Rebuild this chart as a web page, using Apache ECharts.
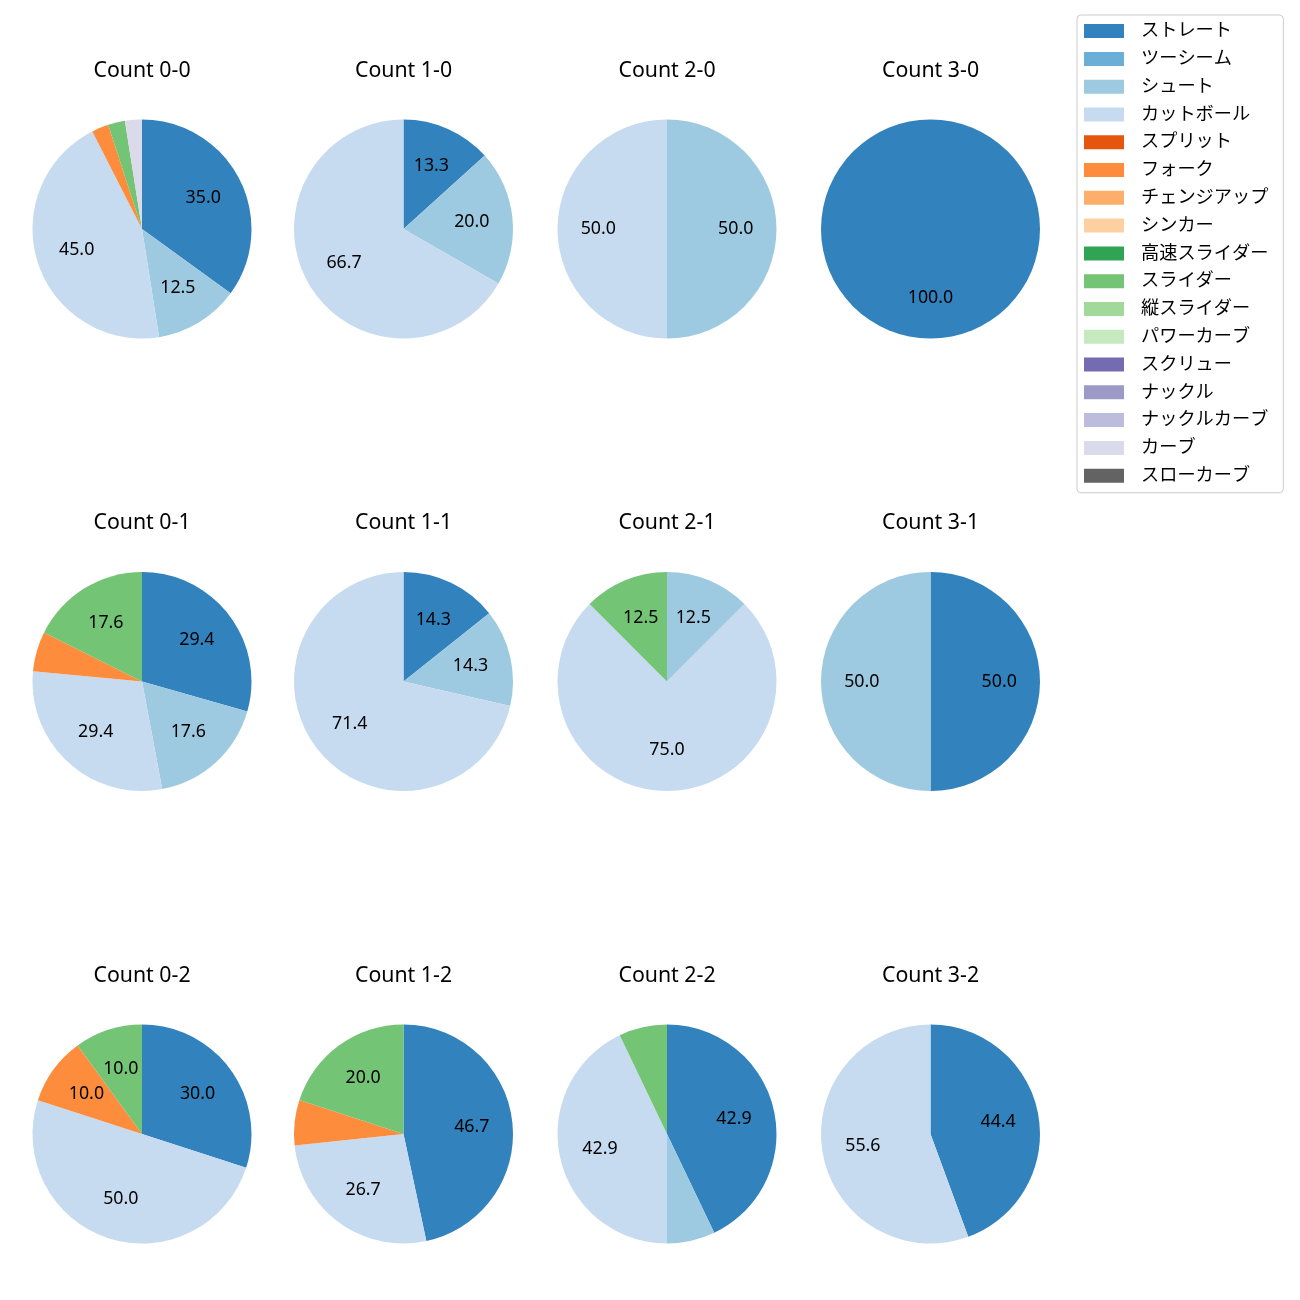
<!DOCTYPE html>
<html>
<head>
<meta charset="utf-8">
<script src="https://cdn.jsdelivr.net/npm/echarts@6/dist/echarts.min.js"></script>
<style>
html,body{margin:0;padding:0;background:#fff;}
#chart{width:1300px;height:1300px;}
</style>
</head>
<body>
<div id="chart"></div>
<script>
// Pitch types (legend order)
const pitchTypes = ['ストレート','ツーシーム','シュート','カットボール','スプリット','フォーク','チェンジアップ','シンカー','高速スライダー','スライダー','縦スライダー','パワーカーブ','スクリュー','ナックル','ナックルカーブ','カーブ','スローカーブ'];
const pitchColors = ['#3182bd','#6baed6','#9ecae1','#c6dbef','#e6550d','#fd8d3c','#fdae6b','#fdd0a2','#31a354','#74c476','#a1d99b','#c7e9c0','#756bb1','#9e9ac8','#bcbddc','#dadaeb','#636363'];

// Count titles (row-major: strikes rows, balls columns)
const countTitles = [
  'Count 0-0','Count 1-0','Count 2-0','Count 3-0',
  'Count 0-1','Count 1-1','Count 2-1','Count 3-1',
  'Count 0-2','Count 1-2','Count 2-2','Count 3-2'
];

// Percentages per pitch type for each count (order = pitchTypes)
const count00 = [35.0, 0, 12.5, 45.0, 0, 2.5, 0, 0, 0, 2.5, 0, 0, 0, 0, 0, 2.5, 0];
const count10 = [13.3, 0, 20.0, 66.7, 0, 0, 0, 0, 0, 0, 0, 0, 0, 0, 0, 0, 0];
const count20 = [0, 0, 50.0, 50.0, 0, 0, 0, 0, 0, 0, 0, 0, 0, 0, 0, 0, 0];
const count30 = [100.0, 0, 0, 0, 0, 0, 0, 0, 0, 0, 0, 0, 0, 0, 0, 0, 0];
const count01 = [29.4, 0, 17.6, 29.4, 0, 5.9, 0, 0, 0, 17.6, 0, 0, 0, 0, 0, 0, 0];
const count11 = [14.3, 0, 14.3, 71.4, 0, 0, 0, 0, 0, 0, 0, 0, 0, 0, 0, 0, 0];
const count21 = [0, 0, 12.5, 75.0, 0, 0, 0, 0, 0, 12.5, 0, 0, 0, 0, 0, 0, 0];
const count31 = [50.0, 0, 50.0, 0, 0, 0, 0, 0, 0, 0, 0, 0, 0, 0, 0, 0, 0];
const count02 = [30.0, 0, 0, 50.0, 0, 10.0, 0, 0, 0, 10.0, 0, 0, 0, 0, 0, 0, 0];
const count12 = [46.7, 0, 0, 26.7, 0, 6.7, 0, 0, 0, 20.0, 0, 0, 0, 0, 0, 0, 0];
const count22 = [42.9, 0, 7.1, 42.9, 0, 0, 0, 0, 0, 7.1, 0, 0, 0, 0, 0, 0, 0];
const count32 = [44.4, 0, 0, 55.6, 0, 0, 0, 0, 0, 0, 0, 0, 0, 0, 0, 0, 0];

const countValues = [count00,count10,count20,count30,count01,count11,count21,count31,count02,count12,count22,count32];

// Layout
const colX = [142, 403.5, 667, 930.5];
const rowY = [229, 681.5, 1134];
const titleY = [71, 523, 976];
const R = 109.5;
const FONT = '"Noto Sans", "Noto Sans CJK JP", sans-serif';
const LABEL_MIN = 8;

const chart = echarts.init(document.getElementById('chart'), null, {renderer:'canvas'});

const titles = [];
const series = [];
countValues.forEach((vals, i) => {
  const c = i % 4, r = Math.floor(i / 4);
  const data = pitchTypes.map((n, k) => ({name: n, value: vals[k], itemStyle: {color: pitchColors[k]}}));
  titles.push({
    text: countTitles[i], left: colX[c], top: titleY[r], textAlign: 'center', textVerticalAlign: 'middle',
    padding: 0,
    textStyle: {fontFamily: FONT, fontSize: 21.3, fontWeight: 'normal', color: '#000'}
  });
  series.push({
    type: 'pie', center: [colX[c], rowY[r]], radius: [0, R], startAngle: 90, clockwise: true,
    data: data, label: {show: false}, labelLine: {show: false},
    itemStyle: {borderWidth: 0}, emphasis: {disabled: true}, silent: true, animation: false
  });
  series.push({
    type: 'pie', center: [colX[c], rowY[r]], radius: [R * 0.2, R], startAngle: 90, clockwise: true,
    data: pitchTypes.map((n, k) => ({name: n, value: vals[k]})),
    itemStyle: {color: 'rgba(0,0,0,0)', borderWidth: 0},
    label: {
      show: true, position: 'inside', fontFamily: FONT, fontSize: 17.8, color: '#000',
      formatter: p => (p.value >= LABEL_MIN ? p.value.toFixed(1) : '')
    },
    labelLine: {show: false}, emphasis: {disabled: true}, silent: true, animation: false,
    legendHoverLink: false
  });
});

const option = {
  backgroundColor: '#fff',
  animation: false,
  title: titles,
  legend: {
    orient: 'vertical', left: 1077, top: 15,
    data: pitchTypes.map((n, k) => ({name: n, itemStyle: {color: pitchColors[k]}})),
    icon: 'rect', itemWidth: 40, itemHeight: 14, itemGap: 9.6,
    padding: [7, 15, 8, 7],
    borderColor: '#cccccc', borderWidth: 1, borderRadius: 4,
    selectedMode: false,
    textStyle: {fontFamily: FONT, fontSize: 18.2, color: '#000', padding: [0, 0, 0, 12]}
  },
  series: series
};
chart.setOption(option);
</script>
</body>
</html>
